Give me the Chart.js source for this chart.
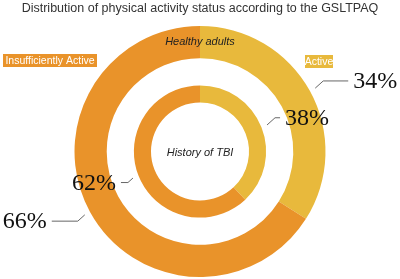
<!DOCTYPE html>
<html>
<head>
<meta charset="utf-8">
<script src="https://cdn.jsdelivr.net/npm/chart.js@4.4.0/dist/chart.umd.min.js"></script>
<style>
  html, body { margin: 0; padding: 0; background: #fff; }
  #wrap { width: 400px; height: 279px; }
</style>
</head>
<body>
<div id="wrap"><canvas id="chart"></canvas></div>
<script>
// --- Data ---
const categories = ['Active', 'Insufficiently Active'];
const groups = ['Healthy adults', 'History of TBI'];
const healthyAdults = [34, 66];
const historyTBI = [38, 62];

const ORANGE = '#E9932A';
const YELLOW = '#E8B93C';
const SANS = '"Liberation Sans", Arial, Helvetica, sans-serif';
const SERIF = '"Liberation Serif", "Times New Roman", serif';

// leader lines + big percentage labels, hung off the arc elements
const labelPlugin = {
    id: 'ringLabels',
    afterDraw(chart) {
        const ctx = chart.ctx;
        const metaOuter = chart.getDatasetMeta(0);
        const metaInner = chart.getDatasetMeta(2);

        // [meta, index, elbow dx, horizontal run]
        const specs = [
            [metaOuter, 0, 8, 25],
            [metaInner, 0, 8, 5],
            [metaInner, 1, -5, 7],
            [metaOuter, 1, -7, 26]
        ];
        const values = [healthyAdults, historyTBI];

        ctx.save();
        specs.forEach(([meta, i, elbow, run]) => {
            const arc = meta.data[i];
            const mid = (arc.startAngle + arc.endAngle) / 2;
            const r = arc.outerRadius + 6;
            const x0 = arc.x + Math.cos(mid) * r;
            const y0 = arc.y + Math.sin(mid) * r;
            const dir = elbow > 0 ? 1 : -1;
            const x1 = x0 + elbow;
            const y1 = y0 - dir * Math.abs(elbow) * 0.9;
            const x2 = x1 + dir * run;

            ctx.strokeStyle = '#666';
            ctx.lineWidth = 1;
            ctx.beginPath();
            ctx.moveTo(x0, y0);
            ctx.lineTo(x1, y1);
            ctx.lineTo(x2, y1);
            ctx.stroke();

            const data = meta.index === 0 ? values[0] : values[1];
            ctx.fillStyle = '#111';
            ctx.font = '24px ' + SERIF;
            ctx.textBaseline = 'middle';
            ctx.textAlign = dir > 0 ? 'left' : 'right';
            ctx.fillText(data[i] + '%', x2 + dir * 5, y1 + 1);
        });

        // ring captions
        const outerArc = metaOuter.data[0];
        ctx.fillStyle = '#222';
        ctx.font = 'italic 11px ' + SANS;
        ctx.textAlign = 'center';
        ctx.textBaseline = 'middle';
        ctx.fillText(groups[0], outerArc.x, outerArc.y - (outerArc.outerRadius + outerArc.innerRadius) / 2);
        ctx.fillText(groups[1], outerArc.x, outerArc.y + 1);

        // category boxes
        ctx.font = '10.5px ' + SANS;
        const boxes = [
            [categories[1], ORANGE, 3, 54, 94],
            [categories[0], YELLOW, 305, 55, 28]
        ];
        boxes.forEach(([txt, col, x, y, w]) => {
            ctx.fillStyle = col;
            ctx.fillRect(x, y, w, 13);
            ctx.fillStyle = '#fff';
            ctx.textAlign = 'center';
            ctx.fillText(txt, x + w / 2, y + 7);
        });
        ctx.restore();
    }
};

new Chart(document.getElementById('chart'), {
    type: 'doughnut',
    data: {
        labels: categories,
        datasets: [
            { label: groups[0], data: healthyAdults, backgroundColor: [YELLOW, ORANGE], borderWidth: 0, weight: 32 },
            // blank ring that makes the gap between the two rings
            { label: 'gap', data: [1], backgroundColor: 'rgba(0,0,0,0)', borderWidth: 0, weight: 27 },
            { label: groups[1], data: historyTBI, backgroundColor: [YELLOW, ORANGE], borderWidth: 0, weight: 17 }
        ]
    },
    options: {
        responsive: true,
        maintainAspectRatio: false,
        animation: false,
        cutout: 49,
        layout: { padding: { top: 0, bottom: 2 } },
        plugins: {
            legend: { display: false },
            tooltip: { enabled: false },
            title: {
                display: true,
                text: 'Distribution of physical activity status according to the GSLTPAQ',
                color: '#333',
                font: { family: SANS, size: 12.5, weight: 'normal' },
                padding: { top: 1, bottom: 10 }
            }
        }
    },
    plugins: [labelPlugin]
});
</script>
</body>
</html>
